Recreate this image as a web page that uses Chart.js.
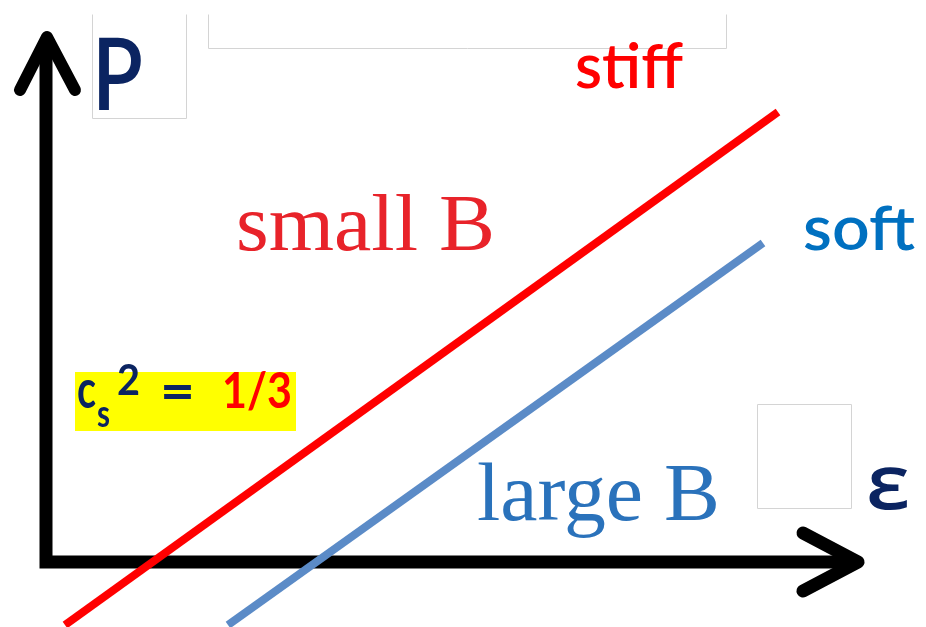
<!DOCTYPE html>
<html>
<head>
<meta charset="utf-8">
<script src="https://cdn.jsdelivr.net/npm/chart.js@4/dist/chart.umd.min.js"></script>
<style>
  html, body { margin: 0; padding: 0; background: #fff; }
  canvas { display: block; }
</style>
</head>
<body>
<canvas id="eos" width="926" height="627"></canvas>
<script>
// two equations of state, P vs epsilon (arbitrary units)
const stiffE = [0.19, 7.32];
const stiffP = [-0.63, 4.50];
const softE = [1.82, 7.17];
const softP = [-0.63, 3.19];

// axes (L shape) and the two arrow heads
const axisE = [0, 0, 8.05];
const axisP = [5.2, 0, 0];
const headXE = [7.57, 8.12, 7.57];
const headXP = [0.29, 0, -0.29];
const headYE = [-0.26, 0.01, 0.29];
const headYP = [4.72, 5.25, 4.72];

const toPoints = (xs, ys) => xs.map((x, i) => ({ x: x, y: ys[i] }));

// labels, placed in data units: left/right edge, baseline
const labels = [
    { text: 'P', x0: 0.46, x1: 0.97, p: 4.52, size: 100, weight: 600, color: '#0b2461', family: 'Lato, sans-serif' },
    { text: 'stiff', x0: 5.29, x1: 6.37, p: 4.74, size: 62, weight: 600, color: '#ff0000', family: 'Lato, sans-serif' },
    { text: 'small B', x0: 1.90, x1: 4.49, p: 3.12, size: 80, weight: 400, color: '#e8232a', family: '"Liberation Serif", serif' },
    { text: 'soft', x0: 7.57, x1: 8.69, p: 3.12, size: 62, weight: 600, color: '#0070c0', family: 'Lato, sans-serif' },
    { text: 'large B', x0: 4.31, x1: 6.74, p: 0.42, size: 82, weight: 400, color: '#2a72bb', family: '"Liberation Serif", serif' },
    { text: 'ε', x0: 8.20, x1: 8.64, p: 0.53, size: 76, weight: 600, color: '#0b2461', family: '"Open Sans", sans-serif' },
    { text: 'c', x0: 0.31, x1: 0.50, p: 1.54, size: 54, weight: 700, color: '#0b2461', family: 'Lato, sans-serif' },
    { text: 's', x0: 0.51, x1: 0.64, p: 1.35, size: 38, weight: 700, color: '#0b2461', family: 'Lato, sans-serif' },
    { text: '2', x0: 0.71, x1: 0.94, p: 1.67, size: 42, weight: 700, color: '#0b2461', family: 'Lato, sans-serif' },
    { text: '=', x0: 1.14, x1: 1.49, p: 1.52, size: 54, weight: 700, color: '#0b2461', family: 'Lato, sans-serif' },
    { text: '1/3', x0: 1.76, x1: 2.46, p: 1.54, size: 50, weight: 700, color: '#ff0000', family: 'Lato, sans-serif' }
];

// empty placeholder frames (open ones run off the top) and the yellow highlight
const frames = [
    { x0: 0.46, x1: 1.40, p0: 4.44, p1: 5.48, open: true },
    { x0: 1.62, x1: 6.80, p0: 5.14, p1: 5.48, open: true },
    { x0: 7.11, x1: 8.05, p0: 0.54, p1: 1.58, open: false }
];
const highlight = { x0: 0.29, x1: 2.50, p0: 1.31, p1: 1.90 };

const decorPlugin = {
    id: 'decor',
    beforeDatasetsDraw(chart) {
        const ctx = chart.ctx;
        const xs = chart.scales.x, ys = chart.scales.y;
        ctx.save();
        ctx.fillStyle = '#ffff00';
        ctx.fillRect(xs.getPixelForValue(highlight.x0), ys.getPixelForValue(highlight.p1),
            xs.getPixelForValue(highlight.x1) - xs.getPixelForValue(highlight.x0),
            ys.getPixelForValue(highlight.p0) - ys.getPixelForValue(highlight.p1));
        ctx.strokeStyle = '#d4d4d4';
        ctx.lineWidth = 1;
        frames.forEach(f => {
            const l = Math.round(xs.getPixelForValue(f.x0)) + 0.5;
            const r = Math.round(xs.getPixelForValue(f.x1)) + 0.5;
            const t = Math.round(ys.getPixelForValue(f.p1)) + 0.5;
            const b = Math.round(ys.getPixelForValue(f.p0)) + 0.5;
            ctx.beginPath();
            ctx.moveTo(l, t);
            ctx.lineTo(l, b);
            ctx.lineTo(r, b);
            ctx.lineTo(r, t);
            if (!f.open) ctx.closePath();
            ctx.stroke();
        });
        ctx.restore();
    },
    afterDatasetsDraw(chart) {
        const ctx = chart.ctx;
        const xs = chart.scales.x, ys = chart.scales.y;
        labels.forEach(lb => {
            ctx.save();
            ctx.font = lb.weight + ' ' + lb.size + 'px ' + lb.family;
            ctx.fillStyle = lb.color;
            ctx.textBaseline = 'alphabetic';
            const left = xs.getPixelForValue(lb.x0);
            const target = xs.getPixelForValue(lb.x1) - left;
            const w = ctx.measureText(lb.text).width;
            ctx.translate(left, ys.getPixelForValue(lb.p));
            ctx.scale(target / w, 1);
            ctx.fillText(lb.text, 0, 0);
            ctx.restore();
        });
    }
};

new Chart(document.getElementById('eos'), {
    type: 'scatter',
    data: {
        datasets: [
            { label: 'axes', data: toPoints(axisE, axisP), borderColor: '#000', borderWidth: 13, borderJoinStyle: 'miter', order: 3 },
            { label: 'arrowX', data: toPoints(headXE, headXP), borderColor: '#000', borderWidth: 13, borderCapStyle: 'round', borderJoinStyle: 'round', order: 3 },
            { label: 'arrowY', data: toPoints(headYE, headYP), borderColor: '#000', borderWidth: 12, borderCapStyle: 'round', borderJoinStyle: 'round', order: 3 },
            { label: 'large B', data: toPoints(softE, softP), borderColor: '#5b8bc7', borderWidth: 8, order: 2 },
            { label: 'small B', data: toPoints(stiffE, stiffP), borderColor: '#ff0000', borderWidth: 8, order: 1 }
        ].map(d => Object.assign({ showLine: true, pointRadius: 0, pointHoverRadius: 0, tension: 0, fill: false }, d))
    },
    options: {
        responsive: false,
        animation: false,
        devicePixelRatio: 1,
        layout: { padding: 0 },
        plugins: { legend: { display: false }, tooltip: { enabled: false } },
        scales: {
            x: { type: 'linear', min: -0.46, max: 8.80, display: false },
            y: { type: 'linear', min: -0.65, max: 5.62, display: false }
        }
    },
    plugins: [decorPlugin]
});
</script>
</body>
</html>
